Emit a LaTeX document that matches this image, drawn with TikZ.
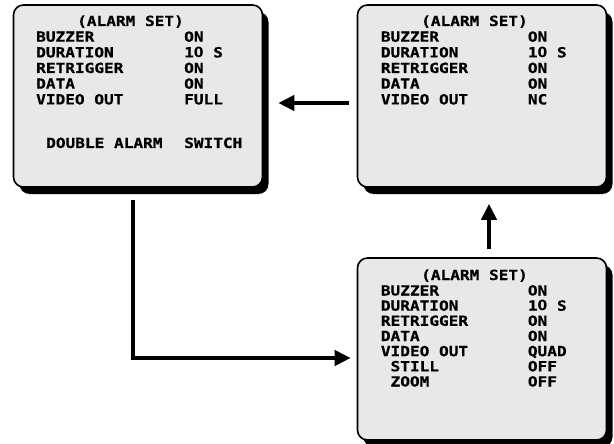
\documentclass[tikz,border=0pt]{standalone}
\usepackage{fontspec}
\newfontfamily\osd{DejaVu Sans Mono}[FakeStretch=1.15,BoldFeatures={FakeBold=0.5}]
\newfontfamily\osdzero{DejaVu Sans}
\newcommand\plainzero{\makebox[0.692em]{\osdzero\bfseries 0}}
\usetikzlibrary{arrows.meta,shadows}
\tikzset{
  screen/.style={draw=black, line width=1.6pt, fill=black!9, rounded corners=10pt,
    minimum width=249pt, minimum height=182pt, inner sep=0pt,
    drop shadow={shadow xshift=6pt, shadow yshift=-7pt, fill=black, opacity=1}},
  txt/.style={anchor=base west, inner sep=0pt, font=\osd\bfseries\fontsize{14}{15}\selectfont},
  conn/.style={line width=4.5pt, -{Triangle[length=16pt,width=15pt]}}
}
\begin{document}
\begin{tikzpicture}[x=1pt,y=-1pt]
\useasboundingbox (0,0) rectangle (614,444);
\clip (0,0) rectangle (614,444);
% screens
\node[screen] (b1) at (138,96) {};
\node[screen] (b2) at (482,96) {};
\node[screen] (b3) at (482,349) {};
% box 1 text
\node[txt] (t1a) at (77,26) {(ALARM SET)};
\node[txt] (t1b) at (36,41.7) {BUZZER};
\node[txt] (t1c) at (36,57.4) {DURATION};
\node[txt] (t1d) at (36,73) {RETRIGGER};
\node[txt] (t1e) at (36,88.7) {DATA};
\node[txt] (t1f) at (36,104.4) {VIDEO OUT};
\node[txt] (v1b) at (184,41.7) {ON};
\node[txt] (v1c) at (184,57.4) {1\plainzero{} S};
\node[txt] (v1d) at (184,73) {ON};
\node[txt] (v1e) at (184,88.7) {ON};
\node[txt] (v1f) at (184,104.4) {FULL};
\node[txt] (t1g) at (46,148) {DOUBLE ALARM};
\node[txt] (v1g) at (184,148) {SWITCH};
% box 2 text
\node[txt] (t2a) at (421,26) {(ALARM SET)};
\node[txt] (t2b) at (380.7,41.7) {BUZZER};
\node[txt] (t2c) at (380.7,57.4) {DURATION};
\node[txt] (t2d) at (380.7,73) {RETRIGGER};
\node[txt] (t2e) at (380.7,88.7) {DATA};
\node[txt] (t2f) at (380.7,104.4) {VIDEO OUT};
\node[txt] (v2b) at (527.7,41.7) {ON};
\node[txt] (v2c) at (527.7,57.4) {1\plainzero{} S};
\node[txt] (v2d) at (527.7,73) {ON};
\node[txt] (v2e) at (527.7,88.7) {ON};
\node[txt] (v2f) at (527.7,104.4) {NC};
% box 3 text
\node[txt] (t3a) at (421,280) {(ALARM SET)};
\node[txt] (t3b) at (380.7,295.5) {BUZZER};
\node[txt] (t3c) at (380.7,310.7) {DURATION};
\node[txt] (t3d) at (380.7,325.8) {RETRIGGER};
\node[txt] (t3e) at (380.7,341) {DATA};
\node[txt] (t3f) at (380.7,356.2) {VIDEO OUT};
\node[txt] (t3g) at (390.4,371.3) {STILL};
\node[txt] (t3h) at (390.4,386.5) {ZOOM};
\node[txt] (v3b) at (527.7,295.5) {ON};
\node[txt] (v3c) at (527.7,310.7) {1\plainzero{} S};
\node[txt] (v3d) at (527.7,325.8) {ON};
\node[txt] (v3e) at (527.7,341) {ON};
\node[txt] (v3f) at (527.7,356.2) {QUAD};
\node[txt] (v3g) at (527.7,371.3) {OFF};
\node[txt] (v3h) at (527.7,386.5) {OFF};
% connectors
\draw[conn] ([xshift=-8pt,yshift=-7pt]b2.west) -- ([xshift=15pt,yshift=-7pt]b1.east);
\draw[conn] ([xshift=7pt,yshift=8pt]b3.north) -- ([xshift=7pt,yshift=-16pt]b2.south);
\draw[conn] ([xshift=-5pt,yshift=-12pt]b1.south) |- ([xshift=-6pt,yshift=-9pt]b3.west);
\end{tikzpicture}
\end{document}
